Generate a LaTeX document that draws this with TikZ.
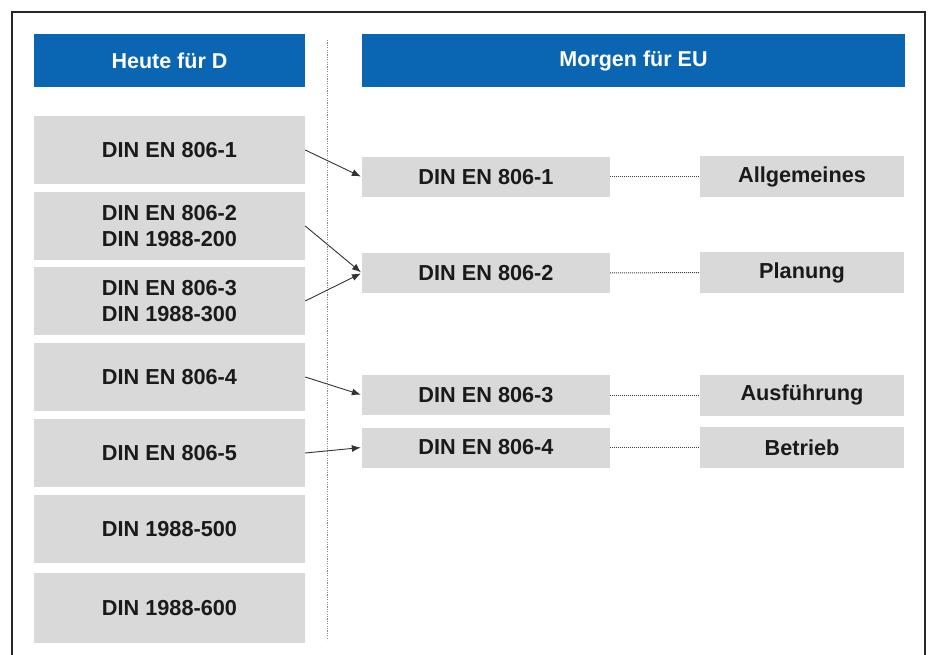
\documentclass[tikz,border=0pt]{standalone}
\usepackage{fontspec}
\setmainfont{Liberation Sans}
\usetikzlibrary{arrows.meta}
\definecolor{hdrblue}{HTML}{0A66B2}
\definecolor{boxgray}{HTML}{D9D9D9}
\definecolor{txt}{HTML}{1A1A1A}
\tikzset{
  hdr/.style={fill=hdrblue, draw=none, text=white, font=\fontsize{21.5}{26}\selectfont\bfseries, minimum height=53pt, inner sep=0pt},
  lbox/.style={fill=boxgray, draw=none, text=txt, font=\fontsize{21.7}{26}\selectfont\bfseries, minimum width=271pt, minimum height=68pt, align=center, inner sep=0pt},
  mbox/.style={fill=boxgray, draw=none, text=txt, font=\fontsize{21.7}{26}\selectfont\bfseries, minimum width=248pt, minimum height=40pt, inner sep=0pt},
  rbox/.style={fill=boxgray, draw=none, text=txt, font=\fontsize{21.7}{26}\selectfont\bfseries, minimum width=204pt, minimum height=41pt, inner sep=0pt},
  arr/.style={draw=black!80, line width=0.9pt, -{Latex[length=9pt,width=7pt]}, shorten >=1pt},
  dotcon/.style={draw=black!75, line width=1pt, dash pattern=on 1pt off 1pt},
}
\begin{document}
\begin{tikzpicture}[x=1pt,y=-1pt]
\useasboundingbox (0,0) rectangle (930,655);
% frame
\draw[line width=1.5pt, black!85] (12,655) -- (12,12) -- (925,12) -- (925,655);
% separator
\draw[black!45, line width=0.8pt, dash pattern=on 1.2pt off 1.2pt] (327,40) -- (327,640);
% headers
\node[hdr, minimum width=271pt] (h1) at (169.5,60.5) {Heute für D};
\node[hdr, minimum width=543pt] (h2) at (633.5,60.5) {Morgen für EU};
% left column
\node[lbox] (l1) at (169.5,150) {DIN EN 806-1};
\node[lbox] (l2) at (169.5,226) {DIN EN 806-2\\DIN 1988-200};
\node[lbox] (l3) at (169.5,301) {DIN EN 806-3\\DIN 1988-300};
\node[lbox] (l4) at (169.5,377) {DIN EN 806-4};
\node[lbox] (l5) at (169.5,453) {DIN EN 806-5};
\node[lbox] (l6) at (169.5,529) {DIN 1988-500};
\node[lbox, minimum height=70pt] (l7) at (169.5,608) {DIN 1988-600};
% middle column
\node[mbox] (m1) at (486,177) {DIN EN 806-1};
\node[mbox] (m2) at (486,273) {DIN EN 806-2};
\node[mbox] (m3) at (486,395) {DIN EN 806-3};
\node[mbox] (m4) at (486,447.5) {DIN EN 806-4};
% right column
\node[rbox] (r1) at (802,177) {Allgemeines};
\node[rbox] (r2) at (802,272.5) {Planung};
\node[rbox] (r3) at (802,395) {Ausführung};
\node[rbox] (r4) at (802,447.5) {Betrieb};
% arrows
\draw[arr] (l1.east) -- (m1.west);
\draw[arr] (l2.east) -- (m2.west);
\draw[arr] (l3.east) -- (m2.west);
\draw[arr] (l4.east) -- (m3.west);
\draw[arr] (l5.east) -- (m4.west);
% dotted connectors
\draw[dotcon] (m1.east) -- (r1.west);
\draw[dotcon] (m2.east) -- (r2.west);
\draw[dotcon] (m3.east) -- (r3.west);
\draw[dotcon] (m4.east) -- (r4.west);
\end{tikzpicture}
\end{document}
